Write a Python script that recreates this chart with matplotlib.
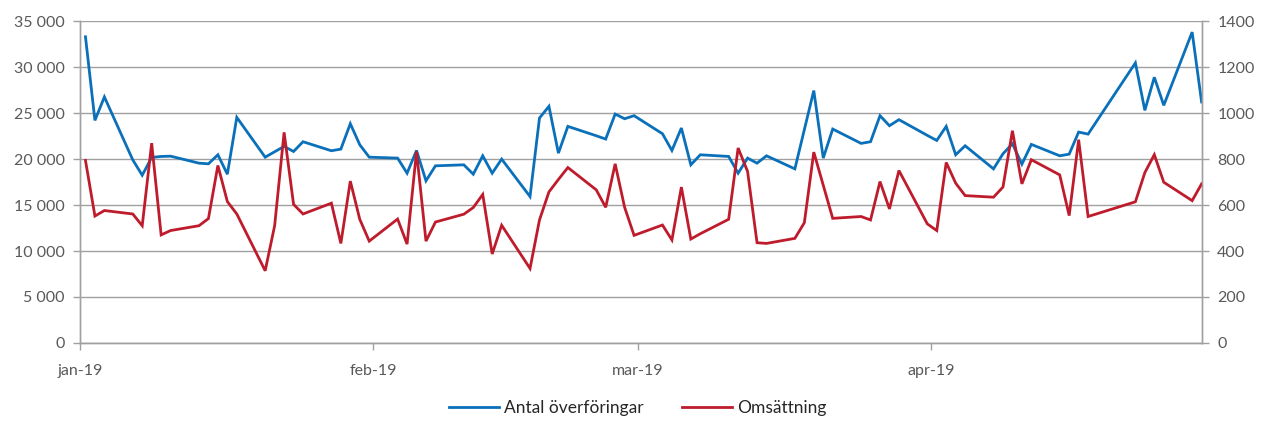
import pandas as pd
import matplotlib
matplotlib.use("Agg")
import matplotlib.pyplot as plt
from matplotlib.ticker import FuncFormatter

plt.rcParams['font.family'] = ['Lato', 'DejaVu Sans']

# trading days jan-apr 2019 (Swedish holidays removed)
dates = pd.bdate_range("2019-01-02", "2019-04-30")
dates = dates.drop(pd.to_datetime(["2019-04-19", "2019-04-22"]))

antal = [
    # jan
    33290, 24200, 26750, 19910, 18240, 20170, 20280, 20310, 19550, 19480, 20460,
    18350, 24530, 20200, 20790, 21370, 20820, 21880, 20900, 21080, 23840, 21550,
    # feb
    20200, 20100, 18460, 20930, 17630, 19260, 19370, 18350, 20350, 18460,
    19990, 15920, 24460, 25730, 20640, 23550, 22530, 22170, 24890, 24380,
    # mar
    24710, 22750, 20930, 23370, 19370, 20460, 20280, 18460, 20100, 19550, 20350,
    18930, 23190, 27440, 20100, 23260, 21700, 21880, 24710, 23620, 24280,
    # apr
    22570, 22020, 23550, 20460, 21440, 18930, 20570, 21660, 19440, 21590,
    20350, 20530, 22930, 22710, 30450, 25290, 28890, 25840, 33800, 26200,
]

omsattning = [
    794, 552, 576, 561, 510, 869, 470, 489, 510, 541, 772,
    615, 561, 314, 510, 916, 603, 561, 608, 433, 704, 538,
    443, 539, 430, 833, 443, 526, 560, 589, 646, 387,
    512, 324, 535, 657, 711, 763, 666, 590, 779, 590,
    468, 513, 448, 678, 452, 475, 538, 848, 746, 436, 433,
    455, 523, 830, 686, 542, 550, 535, 702, 583, 750,
    518, 489, 785, 695, 641, 634, 678, 923, 692, 797,
    731, 554, 884, 550, 614, 741, 819, 699, 619, 692,
]

month_ticks = pd.to_datetime(["2019-01-01", "2019-02-01", "2019-03-01", "2019-04-01"]) + pd.Timedelta(hours=10)
month_labels = ["jan-19", "feb-19", "mar-19", "apr-19"]

blue = "#0A70BA"
red = "#BE1C2C"
grey = "#A0A0A0"

fig = plt.figure(figsize=(12.63, 4.21), dpi=100)
ax = fig.add_axes([0.0633, 0.1853, 0.8884, 0.7647])
ax2 = ax.twinx()

l1, = ax.plot(dates, antal, color=blue, lw=2.0, label="Antal överföringar", solid_joinstyle="miter")
l2, = ax2.plot(dates, omsattning, color=red, lw=2.0, label="Omsättning", solid_joinstyle="miter")

ax.set_xlim(pd.Timestamp("2019-01-01 12:00"), pd.Timestamp("2019-04-30 01:00"))
ax.set_ylim(0, 35000)
ax2.set_ylim(0, 1400)
ax.set_yticks(range(0, 35001, 5000))
ax2.set_yticks(range(0, 1401, 200))
ax.yaxis.set_major_formatter(FuncFormatter(lambda v, p: f"{int(v):,}".replace(",", " ")))
ax.set_xticks(month_ticks)
ax.set_xticklabels(month_labels)

ax.grid(axis="y", color=grey, lw=1.0)
ax.set_axisbelow(True)

for a in (ax, ax2):
    a.spines["top"].set_visible(False)
    for s in ("left", "right", "bottom"):
        a.spines[s].set_color(grey)
        a.spines[s].set_linewidth(1.0)
    a.tick_params(colors=grey, length=5, width=1.0, labelsize=11.5, labelcolor="#595959")
ax.tick_params(axis="x", pad=10)
ax.tick_params(axis="y", pad=6)
ax2.tick_params(axis="y", pad=6)

fig.legend(handles=[l1, l2], loc="center", bbox_to_anchor=(0.505, 0.03), ncol=2,
           frameon=False, fontsize=12.5, handlelength=2.9, handletextpad=0.3,
           columnspacing=2.2, labelcolor="#262626", borderaxespad=0, borderpad=0)

fig.savefig("out.png", dpi=100)
